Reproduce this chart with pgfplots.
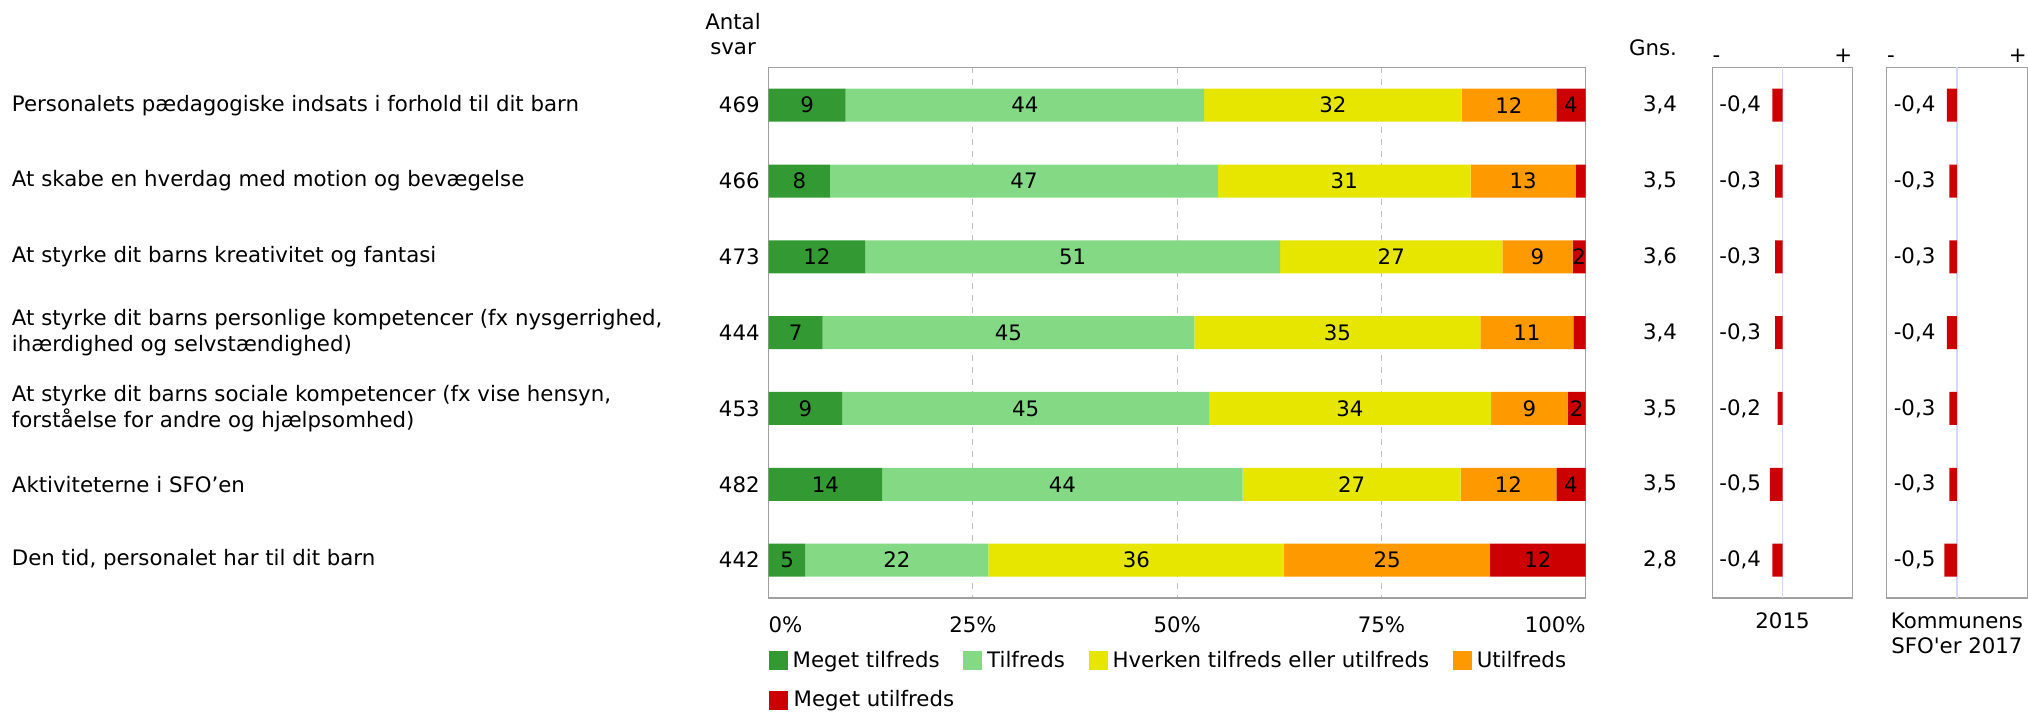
\documentclass[border=0pt]{standalone}
\usepackage{fontspec}
\setmainfont{DejaVu Sans}[Ligatures=TeXOff]
\usepackage{pgfplots}
\pgfplotsset{compat=1.18}
\definecolor{cMT}{RGB}{51,153,51}
\definecolor{cT}{RGB}{132,217,132}
\definecolor{cH}{RGB}{230,230,0}
\definecolor{cU}{RGB}{255,153,0}
\definecolor{cMU}{RGB}{204,0,0}
\definecolor{frameg}{RGB}{160,160,160}
\definecolor{zeroline}{RGB}{215,215,250}
\begin{document}
\begin{tikzpicture}[font=\fontsize{10.65pt}{12.9pt}\selectfont]
\pgfplotsset{
  common/.style={scale only axis, height=265.35pt, ymin=0.5, ymax=7.5, y dir=reverse,
    axis line style={draw=frameg, line width=0.6pt}, tick style={draw=none},
    major tick length=0pt, clip=false},
  small/.style={common, width=70.2pt, xmin=-2.8, xmax=2.8, xbar, bar width=16.5pt,
    xtick=\empty, extra x ticks={0}, extra x tick labels={},
    extra x tick style={grid=major, major grid style={draw=zeroline, line width=0.8pt}},
    ytick={1,...,7}, yticklabel style={anchor=west}},
}
\begin{axis}[common, at={(384.35pt,-33.65pt)}, anchor=north west, width=408.5pt,
  xbar stacked, bar width=16.5pt, xmin=0, xmax=100,
  xtick={25,50,75}, xticklabels={25\%,50\%,75\%},
  extra x ticks={0,100},
  extra x tick labels={\makebox[0pt][l]{0\%},\makebox[0pt][r]{100\%}},
  extra x tick style={grid=none},
  xticklabel style={yshift=-6pt},
  xmajorgrids, major grid style={draw=black!25, dash pattern=on 3pt off 3pt, line width=0.5pt},
  ytick={1,...,7}, yticklabels={469,466,473,444,453,482,442},
  yticklabel style={xshift=-1pt},
  extra y ticks={1,...,7},
  extra y tick labels={
    {Personalets pædagogiske indsats i forhold til dit barn},
    {At skabe en hverdag med motion og bevægelse},
    {At styrke dit barns kreativitet og fantasi},
    {At styrke dit barns personlige kompetencer (fx nysgerrighed,\\ihærdighed og selvstændighed)},
    {At styrke dit barns sociale kompetencer (fx vise hensyn,\\forståelse for andre og hjælpsomhed)},
    {Aktiviteterne i SFO’en},
    {Den tid, personalet har til dit barn}},
  extra y tick style={yticklabel style={anchor=west, align=left, xshift=-380.9pt}},
  point meta=explicit symbolic,
  nodes near coords,
  every node near coord/.append style={anchor=center, text=black, inner sep=0pt},
  legend image code/.code={\fill[#1] (0pt,-4.75pt) rectangle (9.5pt,4.75pt);},
  legend columns=4, legend cell align=left,
  legend style={at={(0,0)}, anchor=north west, yshift=-26.7pt, draw=none, fill=none,
    inner sep=0pt, outer sep=0pt, nodes={inner sep=0pt, anchor=west},
    column sep=2.5pt, row sep=10.1pt,
    /tikz/every even column/.append style={column sep=11.8pt}},
]
\addplot[fill=cMT, draw=none] coordinates {(9.4,1)[9] (7.5,2)[8] (11.8,3)[12] (6.6,4)[7] (9.0,5)[9] (13.9,6)[14] (4.5,7)[5]};
\addplot[fill=cT, draw=none] coordinates {(43.9,1)[44] (47.5,2)[47] (50.8,3)[51] (45.5,4)[45] (44.9,5)[45] (44.1,6)[44] (22.4,7)[22]};
\addplot[fill=cH, draw=none] coordinates {(31.5,1)[32] (30.9,2)[31] (27.2,3)[27] (35.0,4)[35] (34.5,5)[34] (26.7,6)[27] (36.2,7)[36]};
\addplot[fill=cU, draw=none] coordinates {(11.6,1)[12] (12.9,2)[13] (8.6,3)[9] (11.4,4)[11] (9.4,5)[9] (11.7,6)[12] (25.2,7)[25]};
\addplot[fill=cMU, draw=none] coordinates {(3.6,1)[4] (1.2,2)[{}] (1.6,3)[2] (1.5,4)[{}] (2.2,5)[2] (3.6,6)[4] (11.7,7)[12]};
\legend{Meget tilfreds, Tilfreds, Hverken tilfreds eller utilfreds, Utilfreds, \makebox[0pt][l]{Meget utilfreds}}
\end{axis}
\begin{axis}[small, at={(856.15pt,-33.65pt)}, anchor=north west,
  yticklabels={{-0,4},{-0,3},{-0,3},{-0,3},{-0,2},{-0,5},{-0,4}}]
\addplot[fill=cMU, draw=none] coordinates {(-0.4,1) (-0.3,2) (-0.3,3) (-0.3,4) (-0.2,5) (-0.5,6) (-0.4,7)};
\node[anchor=east, inner sep=0pt] at (axis cs:-4.196,1) {3,4};
\node[anchor=east, inner sep=0pt] at (axis cs:-4.196,2) {3,5};
\node[anchor=east, inner sep=0pt] at (axis cs:-4.196,3) {3,6};
\node[anchor=east, inner sep=0pt] at (axis cs:-4.196,4) {3,4};
\node[anchor=east, inner sep=0pt] at (axis cs:-4.196,5) {3,5};
\node[anchor=east, inner sep=0pt] at (axis cs:-4.196,6) {3,5};
\node[anchor=east, inner sep=0pt] at (axis cs:-4.196,7) {2,8};
\end{axis}
\begin{axis}[small, at={(943.35pt,-33.65pt)}, anchor=north west,
  yticklabels={{-0,4},{-0,3},{-0,3},{-0,4},{-0,3},{-0,3},{-0,5}}]
\addplot[fill=cMU, draw=none] coordinates {(-0.4,1) (-0.3,2) (-0.3,3) (-0.4,4) (-0.3,5) (-0.3,6) (-0.5,7)};
\end{axis}
\node[anchor=base, inner sep=0pt] at (366.5pt,-15pt) {Antal};
\node[anchor=base, inner sep=0pt] at (366.5pt,-27.5pt) {svar};
\node[anchor=base east, inner sep=0pt] at (838.65pt,-28pt) {Gns.};
\node[anchor=base west, inner sep=0pt] at (856.15pt,-31.25pt) {-};
\node[anchor=base east, inner sep=0pt] at (926.35pt,-31.25pt) {+};
\node[anchor=base west, inner sep=0pt] at (943.35pt,-31.25pt) {-};
\node[anchor=base east, inner sep=0pt] at (1013.55pt,-31.25pt) {+};
\node[anchor=base, inner sep=0pt] at (891.25pt,-314pt) {2015};
\node[anchor=base, inner sep=0pt] at (978.45pt,-314pt) {Kommunens};
\node[anchor=base, inner sep=0pt] at (978.45pt,-326.5pt) {SFO'er 2017};
\pgfresetboundingbox
\useasboundingbox (0,0) rectangle (1014pt,-357.5pt);
\end{tikzpicture}
\end{document}
